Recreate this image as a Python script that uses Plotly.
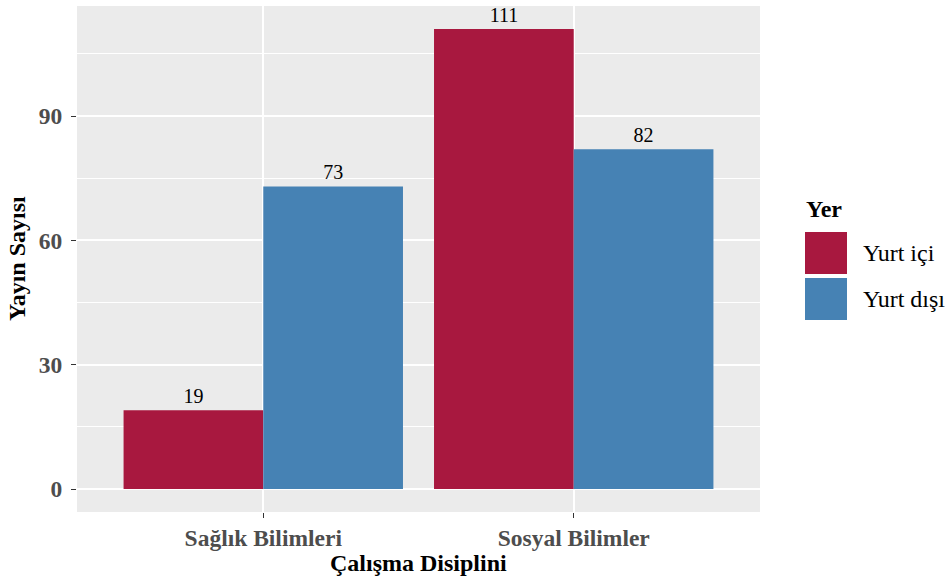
import plotly.graph_objects as go

categories = ["Sağlık Bilimleri", "Sosyal Bilimler"]
yurt_ici = [19, 111]
yurt_disi = [73, 82]
series_names = ["Yurt içi", "Yurt dışı"]
colors = ["#A8183F", "#4682B4"]
y_ticks = [0, 30, 60, 90]
y_minor = [15, 45, 75, 105]

W, H = 950, 582
L, R, T, B = 77, 190, 6, 70
PW, PH = W - L - R, H - T - B

def px_x(x):
    return (x - L) / PW

def px_y(y):
    return 1 - (y - T) / PH

FONT = "Liberation Serif"

fig = go.Figure()
for name, vals, col in zip(series_names, [yurt_ici, yurt_disi], colors):
    fig.add_trace(go.Bar(
        x=categories, y=vals, name=name,
        marker=dict(color=col, line=dict(width=0)),
        text=[str(v) for v in vals], textposition="outside",
        textfont=dict(family=FONT, size=20, color="black"),
        cliponaxis=False, showlegend=False,
    ))

ymax = max(yurt_ici + yurt_disi)
pad = 0.05 * ymax

fig.update_layout(
    width=W, height=H,
    margin=dict(l=L, r=R, t=T, b=B, pad=0),
    paper_bgcolor="white", plot_bgcolor="#EBEBEB",
    barmode="group", bargap=0.1, bargroupgap=0,
    font=dict(family=FONT),
    xaxis=dict(
        type="category", range=[-0.6, 1.6],
        showgrid=True, gridcolor="white", gridwidth=1.6,
        ticks="outside", ticklen=5, tickwidth=1.2, tickcolor="#333333",
        tickfont=dict(family=FONT, size=23.5, color="#4D4D4D", weight="bold"),
        showline=False, zeroline=False,
    ),
    yaxis=dict(
        range=[-pad, ymax + pad],
        tickvals=y_ticks,
        showgrid=True, gridcolor="white", gridwidth=1.6,
        ticks="outside", ticklen=5, tickwidth=1.2, tickcolor="#333333",
        tickfont=dict(family=FONT, size=23.5, color="#4D4D4D", weight="bold"),
        ticklabelstandoff=4,
        minor=dict(tickvals=y_minor, showgrid=True, gridcolor="white", gridwidth=0.8, ticks=""),
        showline=False, zeroline=False,
    ),
)

# axis titles
fig.add_annotation(x=0.5, y=px_y(563), xref="paper", yref="paper",
                   text="Çalışma Disiplini", showarrow=False,
                   font=dict(family=FONT, size=24, color="black", weight="bold"),
                   xanchor="center", yanchor="middle")
fig.add_annotation(x=px_x(17), y=0.5, xref="paper", yref="paper",
                   text="Yayın Sayısı", showarrow=False, textangle=-90,
                   font=dict(family=FONT, size=24, color="black", weight="bold"),
                   xanchor="center", yanchor="middle")

# legend (drawn manually to match key size)
fig.add_annotation(x=px_x(804), y=px_y(209), xref="paper", yref="paper",
                   text="Yer", showarrow=False,
                   font=dict(family=FONT, size=24, color="black", weight="bold"),
                   xanchor="left", yanchor="middle")
key_tops = [232, 278]
for name, col, top in zip(series_names, colors, key_tops):
    fig.add_shape(type="rect", xref="paper", yref="paper",
                  x0=px_x(805), x1=px_x(847), y0=px_y(top + 42), y1=px_y(top),
                  fillcolor=col, line=dict(width=0))
    fig.add_annotation(x=px_x(861), y=px_y(top + 21), xref="paper", yref="paper",
                       text=name, showarrow=False,
                       font=dict(family=FONT, size=24, color="black"),
                       xanchor="left", yanchor="middle")

fig.write_html("out.html", config={"displayModeBar": False},
               post_script="document.body.style.margin='0';document.body.style.overflow='hidden';")
